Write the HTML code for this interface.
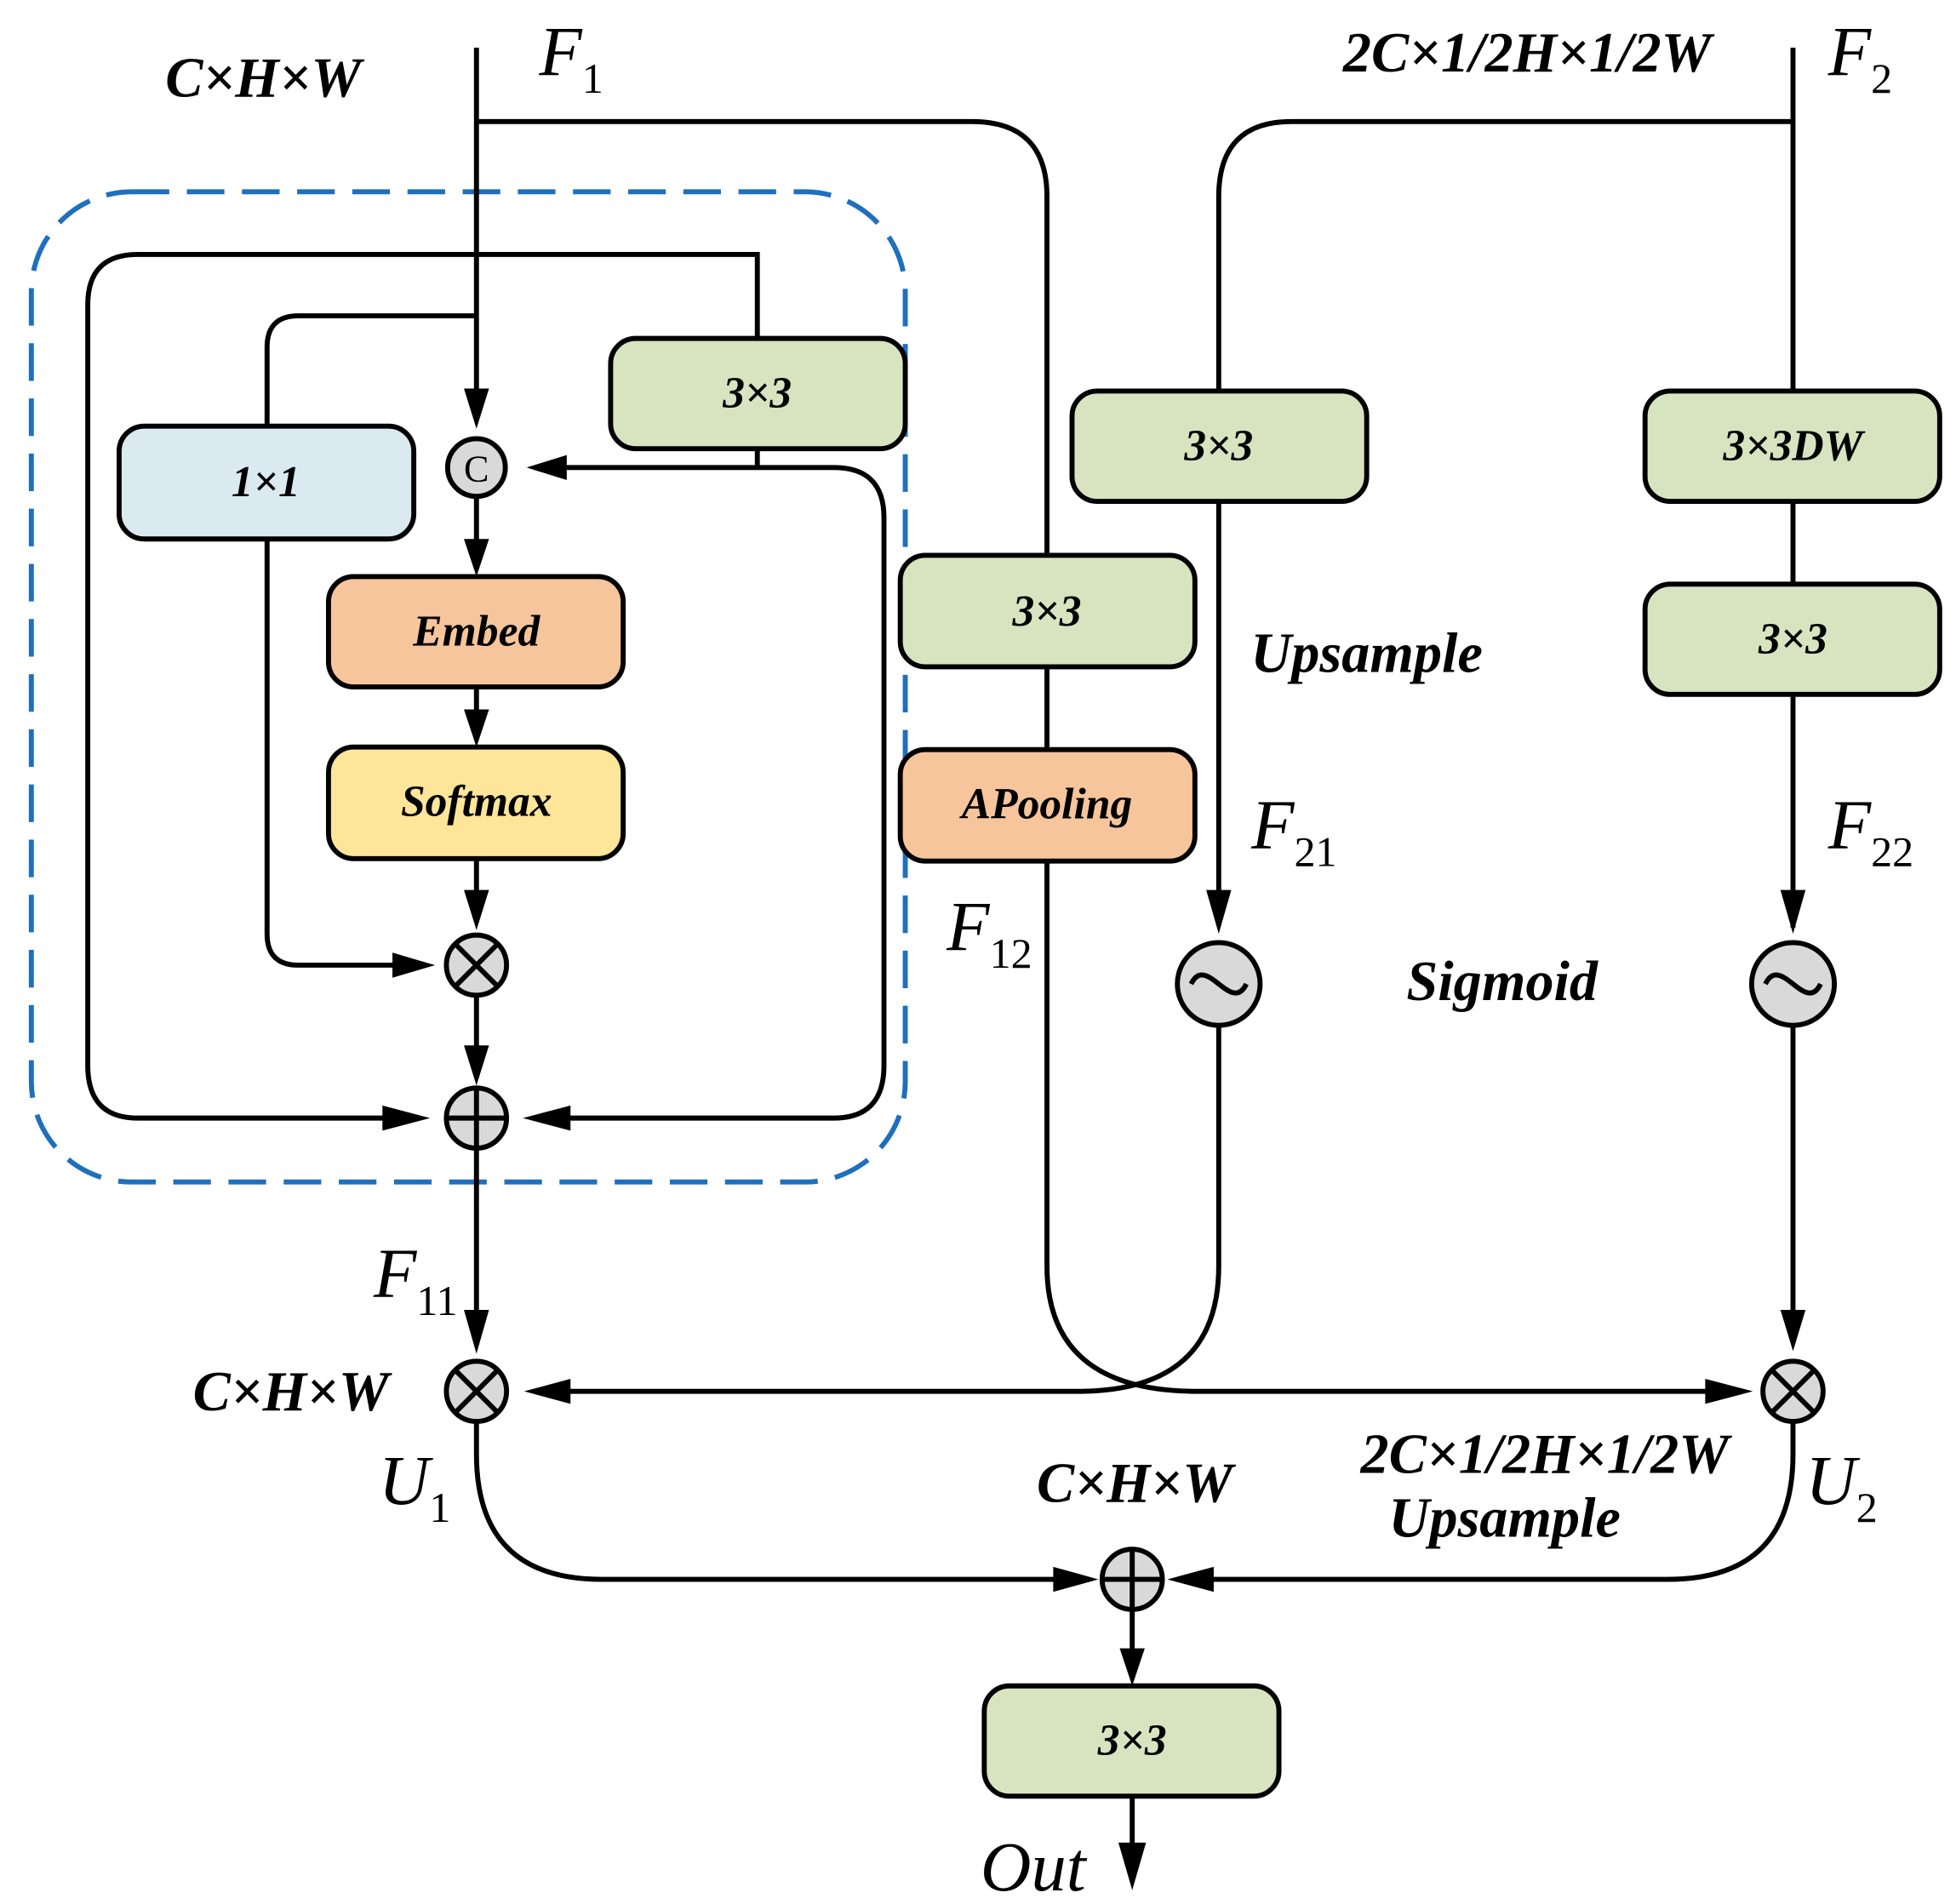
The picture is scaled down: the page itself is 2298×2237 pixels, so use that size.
<!DOCTYPE html>
<html><head><meta charset="utf-8"><style>
html,body{margin:0;padding:0;background:#fff}
svg{display:block}
.b{font-family:"Liberation Serif",serif;font-weight:bold;font-style:italic}
.f{font-family:"Liberation Serif",serif;font-style:italic}
.s{font-family:"Liberation Serif",serif}
</style></head><body>
<svg width="2298" height="2237" viewBox="0 0 1560 1519" preserveAspectRatio="none" xmlns="http://www.w3.org/2000/svg">
<g fill="none" stroke="#000" stroke-width="4">
<rect x="25" y="153" width="697" height="790" rx="80" stroke="#1f6fbf" stroke-width="4" stroke-dasharray="30,14"/>
<path d="M380 38 V330"/>
<path d="M380 97 H775 Q835 97 835 157 V1010 Q835 1110 955 1110 H1370"/>
<path d="M1430 38 V740"/>
<path d="M1430 97 H1030 Q972 97 972 157 V720"/>
<path d="M972 818 V1010 Q972 1110 860 1110 H445"/>
<path d="M1430 818 V1060"/>
<path d="M604 270 V203 H110 Q70 203 70 243 V850 Q70 892 110 892 H315"/>
<path d="M604 358 V373"/>
<path d="M445 373 H665 Q705 373 705 413 V850 Q705 892 665 892 H445"/>
<path d="M380 252 H238 Q213 252 213 277 V340"/>
<path d="M213 430 V745 Q213 770 238 770 H330"/>
<path d="M380 396 V440"/>
<path d="M380 548 V578"/>
<path d="M380 685 V722"/>
<path d="M380 795 V845"/>
<path d="M380 916 V1062"/>
<path d="M380 1135 V1160 Q380 1260 480 1260 H850"/>
<path d="M1430 1135 V1160 Q1430 1260 1330 1260 H958"/>
<path d="M903 1284 V1325"/>
<path d="M903 1433 V1485"/>
</g>
<g fill="#000">
<polygon points="380,342 370,310 390,310"/>
<polygon points="420,373 452,363 452,383"/>
<polygon points="380,460 370,430 390,430"/>
<polygon points="380,596 370,566 390,566"/>
<polygon points="380,742 370,710 390,710"/>
<polygon points="347,770 313,760 313,780"/>
<polygon points="380,866 370,834 390,834"/>
<polygon points="343,892 305,882 305,902"/>
<polygon points="417,892 455,882 455,902"/>
<polygon points="380,1080 370,1045 390,1045"/>
<polygon points="418,1110 455,1100 455,1120"/>
<polygon points="1398,1110 1360,1100 1360,1120"/>
<polygon points="972,745 962,710 982,710"/>
<polygon points="1430,745 1420,710 1440,710"/>
<polygon points="1430,1078 1420,1045 1440,1045"/>
<polygon points="876,1260 840,1250 840,1270"/>
<polygon points="931,1260 968,1250 968,1270"/>
<polygon points="903,1345 893,1315 913,1315"/>
<polygon points="903,1508 892,1470 914,1470"/>
</g>
<g stroke="#000" stroke-width="4">
<rect x="95" y="340" width="235" height="90" rx="20" fill="#dbeaf0"/>
<rect x="487" y="270" width="235" height="88" rx="20" fill="#d8e4c0"/>
<rect x="262" y="460" width="235" height="88" rx="20" fill="#f6c59b"/>
<rect x="262" y="596" width="235" height="89" rx="20" fill="#fde59a"/>
<rect x="718" y="443" width="235" height="89" rx="20" fill="#d8e4c0"/>
<rect x="718" y="598" width="235" height="89" rx="20" fill="#f6c59b"/>
<rect x="855" y="312" width="235" height="88" rx="20" fill="#d8e4c0"/>
<rect x="1312" y="312" width="235" height="88" rx="20" fill="#d8e4c0"/>
<rect x="1312" y="466" width="235" height="88" rx="20" fill="#d8e4c0"/>
<rect x="785" y="1345" width="235" height="88" rx="20" fill="#d8e4c0"/>
<circle cx="380" cy="373" r="23" fill="#d9d9d9"/>
<circle cx="380" cy="770" r="24" fill="#d9d9d9"/>
<circle cx="380" cy="892" r="24" fill="#d9d9d9"/>
<circle cx="380" cy="1110" r="24" fill="#d9d9d9"/>
<circle cx="1430" cy="1110" r="24" fill="#d9d9d9"/>
<circle cx="903" cy="1260" r="24" fill="#d9d9d9"/>
<circle cx="972" cy="785" r="33" fill="#d9d9d9"/>
<circle cx="1430" cy="785" r="33" fill="#d9d9d9"/>
</g>
<g stroke="#000" stroke-width="4" fill="none">
<path d="M363 753 L397 787 M397 753 L363 787"/>
<path d="M380 868 V916 M356 892 H404"/>
<path d="M363 1093 L397 1127 M397 1093 L363 1127"/>
<path d="M1413 1093 L1447 1127 M1447 1093 L1413 1127"/>
<path d="M903 1236 V1284 M879 1260 H927"/>
<path d="M950 785 C962 760 982 810 994 785"/>
<path d="M1408 785 C1420 760 1440 810 1452 785"/>
</g>
<text x="380" y="384" text-anchor="middle" class="s" font-size="30">C</text>
<g class="b" font-size="35" text-anchor="middle">
<text x="212" y="396">1×1</text>
<text x="604" y="325">3×3</text>
<text x="380" y="515">Embed</text>
<text x="380" y="651">Softmax</text>
<text x="835" y="499">3×3</text>
<text x="835" y="653">APooling</text>
<text x="972" y="367">3×3</text>
<text x="1430" y="367">3×3DW</text>
<text x="1430" y="521">3×3</text>
<text x="903" y="1400">3×3</text>
</g>
<g class="b" font-size="45">
<text x="210" y="77" text-anchor="middle">C×H×W</text>
<text x="1218" y="57" text-anchor="middle">2C×1/2H×1/2W</text>
<text x="1090" y="536" text-anchor="middle">Upsample</text>
<text x="1198" y="798" text-anchor="middle">Sigmoid</text>
<text x="232" y="1125" text-anchor="middle">C×H×W</text>
<text x="905" y="1198" text-anchor="middle">C×H×W</text>
<text x="1232" y="1175" text-anchor="middle">2C×1/2H×1/2W</text>
<text x="1200" y="1226" text-anchor="middle">Upsample</text>
</g>
<g class="f" font-size="56">
<text x="430" y="60">F<tspan class="s" font-style="normal" font-size="34" dy="14">1</tspan></text>
<text x="1458" y="60">F<tspan class="s" font-style="normal" font-size="34" dy="14">2</tspan></text>
<text x="998" y="677">F<tspan class="s" font-style="normal" font-size="34" dy="14">21</tspan></text>
<text x="1458" y="677">F<tspan class="s" font-style="normal" font-size="34" dy="14">22</tspan></text>
<text x="755" y="758">F<tspan class="s" font-style="normal" font-size="34" dy="14">12</tspan></text>
<text x="298" y="1035">F<tspan class="s" font-style="normal" font-size="34" dy="14">11</tspan></text>
<text x="302" y="1200">U<tspan class="s" font-style="normal" font-size="34" dy="14">1</tspan></text>
<text x="1440" y="1200">U<tspan class="s" font-style="normal" font-size="34" dy="14">2</tspan></text>
<text x="782" y="1508">Out</text>
</g>
</svg>
</body></html>
